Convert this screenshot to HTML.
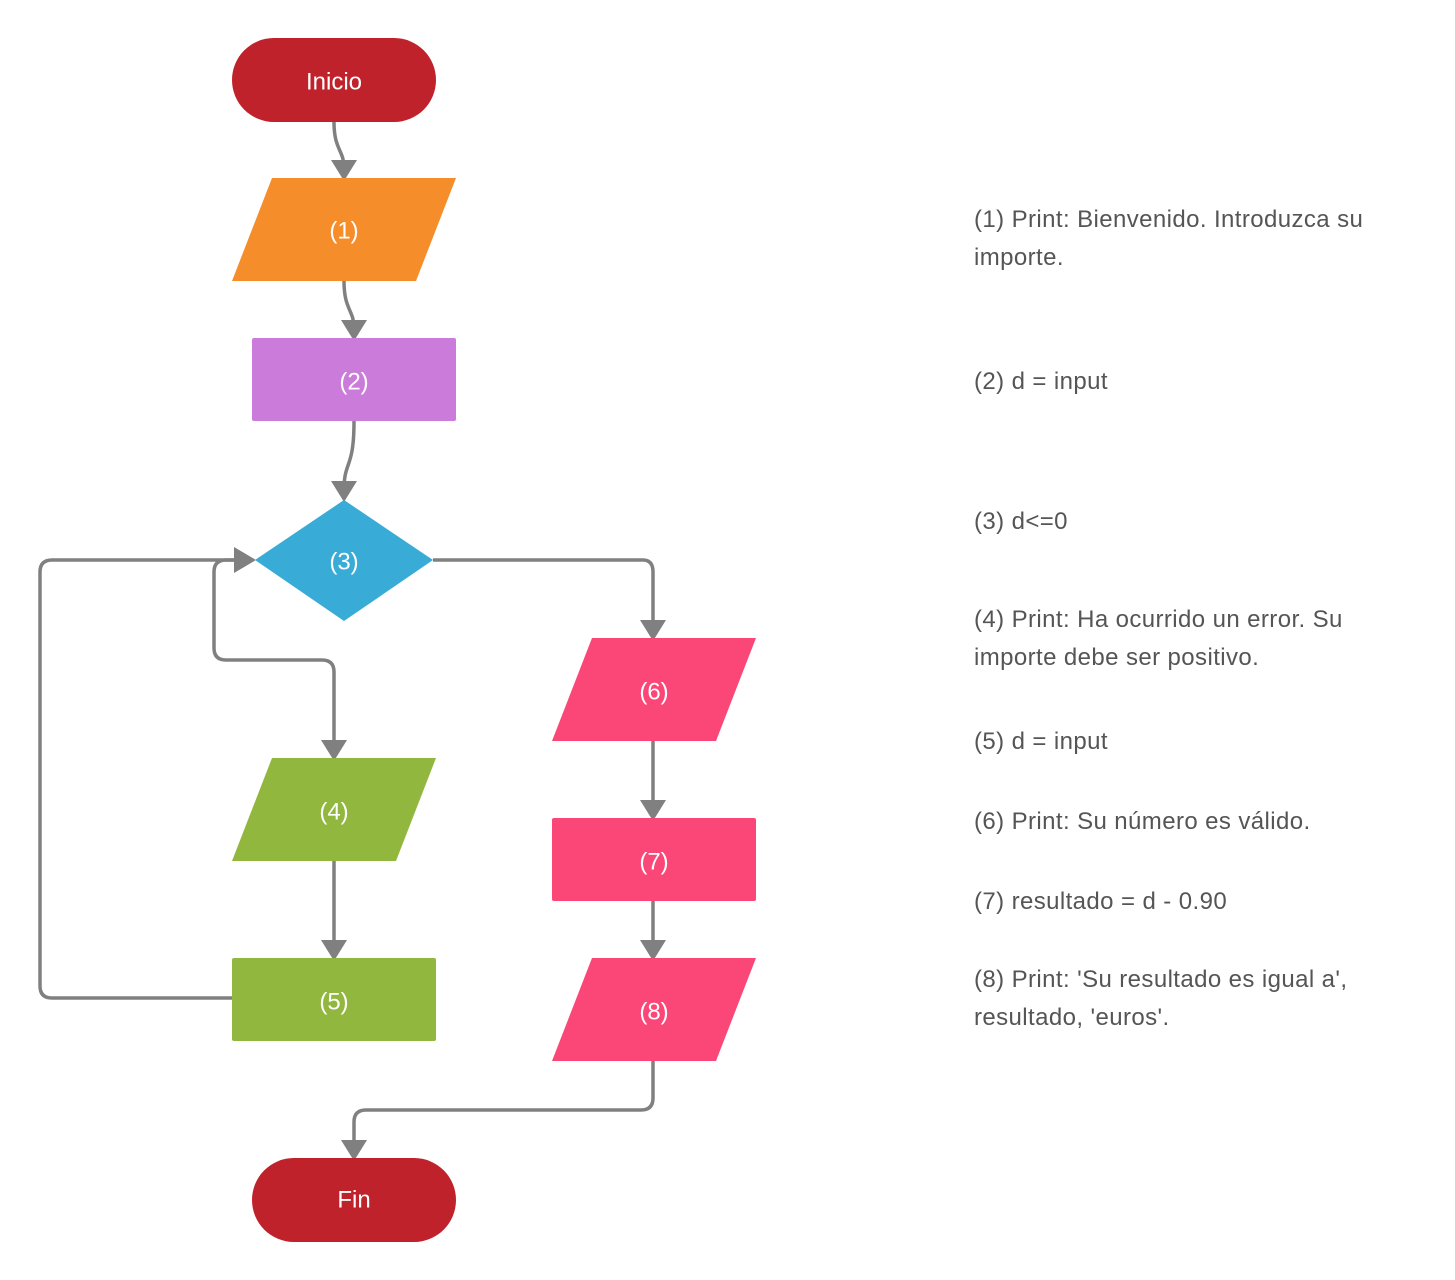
<!DOCTYPE html>
<html><head><meta charset="utf-8"><style>
body{margin:0;background:#fff;width:1455px;height:1280px;overflow:hidden}
svg{display:block}
.n{font-family:"Liberation Sans",sans-serif;font-size:24px;fill:#fff;text-anchor:middle;dominant-baseline:central}
.t{font-family:"Liberation Sans",sans-serif;font-size:24px;letter-spacing:0.4px;fill:#555}
.c{fill:none;stroke:#808080;stroke-width:3.5}
.a{fill:#808080}
</style></head><body>
<svg width="1455" height="1280" viewBox="0 0 1455 1280">
<path class="c" d="M334 122 C334 150 344 150 344 168"/>
<polygon class="a" points="331,160 357,160 344,181"/>
<path class="c" d="M344 281 C344 310 354 310 354 328"/>
<polygon class="a" points="341,320 367,320 354,341"/>
<path class="c" d="M354 421 C354 470 344 460 344 490"/>
<polygon class="a" points="331,481 357,481 344,502"/>
<path class="c" d="M433 560 H643 Q653 560 653 572 V628"/>
<polygon class="a" points="640,620 666,620 653,641"/>
<path class="c" d="M240 560 H226 Q214 560 214 572 V648 Q214 660 226 660 H322 Q334 660 334 672 V748"/>
<polygon class="a" points="321,740 347,740 334,761"/>
<path class="c" d="M232 998 H52 Q40 998 40 986 V572 Q40 560 52 560 H240"/>
<polygon class="a" points="234,547 234,573 256,560"/>
<path class="c" d="M334 861 V948"/>
<polygon class="a" points="321,940 347,940 334,961"/>
<path class="c" d="M653 741 V808"/>
<polygon class="a" points="640,800 666,800 653,821"/>
<path class="c" d="M653 901 V948"/>
<polygon class="a" points="640,940 666,940 653,961"/>
<path class="c" d="M653 1061 V1098 Q653 1110 641 1110 H366 Q354 1110 354 1122 V1148"/>
<polygon class="a" points="341,1140 367,1140 354,1161"/>
<rect x="232" y="38" width="204" height="84" rx="42" fill="#C0222C"/>
<text class="n" x="334" y="82">Inicio</text>
<polygon points="272,178 456,178 416,281 232,281" fill="#F58D2A"/>
<text class="n" x="344" y="231">(1)</text>
<rect x="252" y="338" width="204" height="83" rx="2" fill="#CB7BD9"/>
<text class="n" x="354" y="382">(2)</text>
<polygon points="344,500 433,560 344,621 255,560" fill="#38ACD7"/>
<text class="n" x="344" y="562">(3)</text>
<polygon points="592,638 756,638 716,741 552,741" fill="#FB4777"/>
<text class="n" x="654" y="692">(6)</text>
<rect x="552" y="818" width="204" height="83" rx="2" fill="#FB4777"/>
<text class="n" x="654" y="862">(7)</text>
<polygon points="592,958 756,958 716,1061 552,1061" fill="#FB4777"/>
<text class="n" x="654" y="1012">(8)</text>
<polygon points="272,758 436,758 396,861 232,861" fill="#92B73F"/>
<text class="n" x="334" y="812">(4)</text>
<rect x="232" y="958" width="204" height="83" rx="2" fill="#92B73F"/>
<text class="n" x="334" y="1002">(5)</text>
<rect x="252" y="1158" width="204" height="84" rx="42" fill="#C0222C"/>
<text class="n" x="354" y="1200">Fin</text>
<text class="t" x="974" y="227">(1) Print: Bienvenido. Introduzca su</text>
<text class="t" x="974" y="265">importe.</text>
<text class="t" x="974" y="389">(2) d = input</text>
<text class="t" x="974" y="529">(3) d&lt;=0</text>
<text class="t" x="974" y="627">(4) Print: Ha ocurrido un error. Su</text>
<text class="t" x="974" y="665">importe debe ser positivo.</text>
<text class="t" x="974" y="749">(5) d = input</text>
<text class="t" x="974" y="829">(6) Print: Su número es válido.</text>
<text class="t" x="974" y="909">(7) resultado = d - 0.90</text>
<text class="t" x="974" y="987">(8) Print: 'Su resultado es igual a',</text>
<text class="t" x="974" y="1025">resultado, 'euros'.</text>
</svg>
</body></html>
